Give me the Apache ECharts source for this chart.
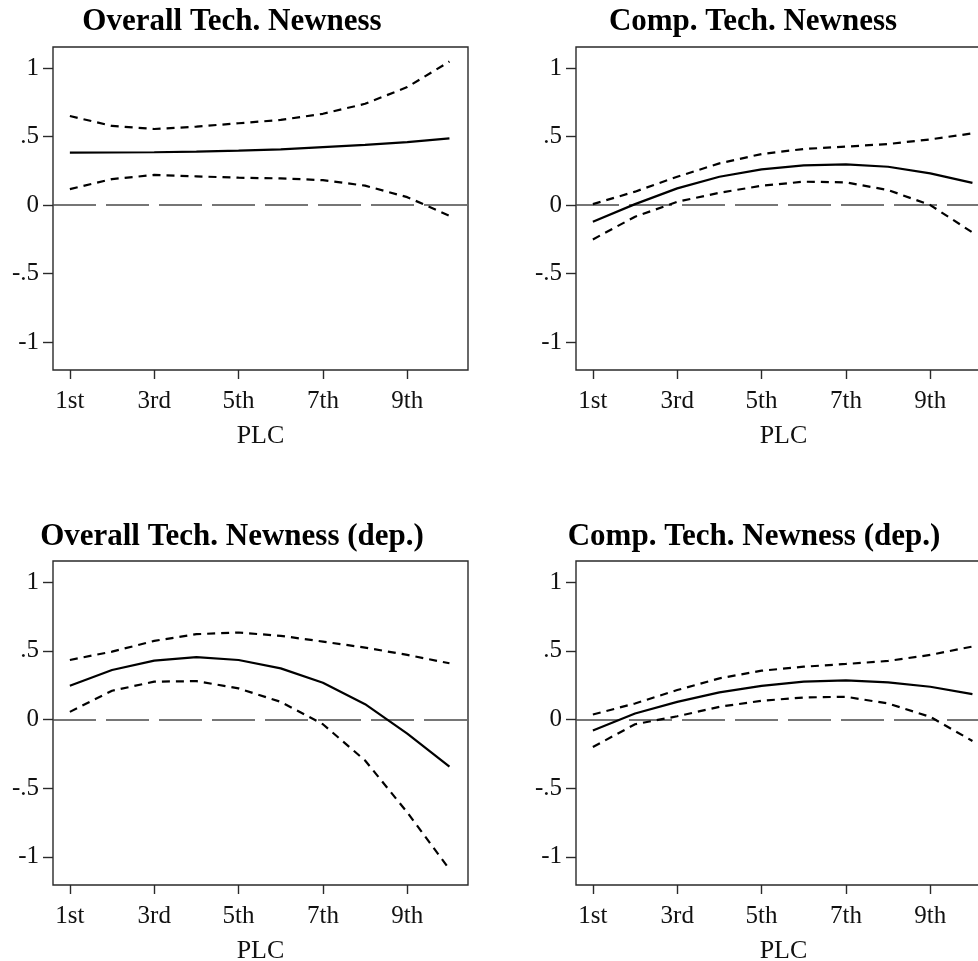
<!DOCTYPE html>
<html>
<head>
<meta charset="utf-8">
<title>PLC newness effects</title>
<script src="https://cdn.jsdelivr.net/npm/echarts@6/dist/echarts.min.js"></script>
<style>
  html, body { margin: 0; padding: 0; background: #fff; }
  #chart { width: 978px; height: 961px; }
</style>
</head>
<body>
<div id="chart"></div>
<script>
// PLC stage on the x axis
const plc = [1, 2, 3, 4, 5, 6, 7, 8, 9, 10];
const xTickValues = [1, 3, 5, 7, 9];
const xTickLabels = ['1st', '3rd', '5th', '7th', '9th'];
const yTickValues = [-1, -0.5, 0, 0.5, 1];
const yTickLabels = ['-1', '-.5', '0', '.5', '1'];

const panelTitles = [
  'Overall Tech. Newness',
  'Comp. Tech. Newness',
  'Overall Tech. Newness (dep.)',
  'Comp. Tech. Newness (dep.)'
];

// estimate + confidence band
const overallEst   = [0.383, 0.384, 0.386, 0.390, 0.398, 0.407, 0.424, 0.440, 0.460, 0.487];
const overallUpper = [0.651, 0.578, 0.556, 0.573, 0.598, 0.622, 0.667, 0.740, 0.862, 1.049];
const overallLower = [0.117, 0.190, 0.220, 0.210, 0.200, 0.195, 0.182, 0.142, 0.058, -0.078];

const compEst   = [-0.122, 0.007, 0.122, 0.207, 0.261, 0.290, 0.298, 0.280, 0.232, 0.162];
const compUpper = [0.007, 0.098, 0.207, 0.305, 0.373, 0.410, 0.427, 0.446, 0.480, 0.524];
const compLower = [-0.251, -0.085, 0.024, 0.090, 0.141, 0.171, 0.166, 0.110, 0.000, -0.200];

const overallDepEst   = [0.246, 0.361, 0.429, 0.455, 0.434, 0.373, 0.268, 0.112, -0.102, -0.343];
const overallDepUpper = [0.434, 0.495, 0.573, 0.622, 0.634, 0.610, 0.568, 0.524, 0.471, 0.410];
const overallDepLower = [0.056, 0.210, 0.276, 0.280, 0.227, 0.129, -0.034, -0.298, -0.676, -1.090];

const compDepEst   = [-0.080, 0.044, 0.129, 0.198, 0.246, 0.276, 0.285, 0.271, 0.239, 0.185];
const compDepUpper = [0.037, 0.117, 0.215, 0.300, 0.356, 0.385, 0.405, 0.427, 0.471, 0.532];
const compDepLower = [-0.200, -0.034, 0.024, 0.093, 0.137, 0.161, 0.166, 0.117, 0.020, -0.156];

const panelData = [
  [overallEst, overallUpper, overallLower],
  [compEst, compUpper, compLower],
  [overallDepEst, overallDepUpper, overallDepLower],
  [compDepEst, compDepUpper, compDepLower]
];

const serif = '"Liberation Serif", "Times New Roman", serif';
const ink = '#111';

// plot boxes (right column runs off the edge, like the original crop)
const boxes = [
  { left: 53, top: 47, height: 323 },
  { left: 576, top: 47, height: 323 },
  { left: 53, top: 561, height: 324 },
  { left: 576, top: 561, height: 324 }
];
const titlePos = [
  { x: 232, y: 22 },
  { x: 753, y: 22 },
  { x: 232, y: 537 },
  { x: 754, y: 537 }
];

const grids = [], xAxes = [], yAxes = [], series = [], graphics = [];

boxes.forEach((b, i) => {
  grids.push({
    left: b.left, top: b.top, width: 415, height: b.height,
    outerBoundsMode: 'none', containLabel: false,
    show: true, borderColor: '#2a2a2a', borderWidth: 1.4, backgroundColor: '#fff'
  });

  xAxes.push({
    gridIndex: i, type: 'value', min: 0.6, max: 10.44, position: 'bottom',
    name: 'PLC', nameLocation: 'middle', nameGap: 53,
    nameTextStyle: { fontFamily: serif, fontSize: 26, color: ink },
    axisLine: { show: false, onZero: false },
    splitLine: { show: false },
    axisTick: { show: true, length: 9, customValues: xTickValues, lineStyle: { color: '#2a2a2a', width: 1.4 } },
    axisLabel: {
      customValues: xTickValues, margin: 19,
      fontFamily: serif, fontSize: 25, color: ink,
      formatter: v => xTickLabels[xTickValues.indexOf(v)]
    }
  });

  yAxes.push({
    gridIndex: i, type: 'value', min: -1.205, max: 1.155, position: 'left',
    axisLine: { show: false, onZero: false },
    splitLine: { show: false },
    axisTick: { show: true, length: 10, customValues: yTickValues, lineStyle: { color: '#2a2a2a', width: 1.4 } },
    axisLabel: {
      customValues: yTickValues, margin: 14,
      fontFamily: serif, fontSize: 25, color: ink,
      formatter: v => yTickLabels[yTickValues.indexOf(v)]
    }
  });

  const [est, upper, lower] = panelData[i];

  series.push({
    type: 'line', xAxisIndex: i, yAxisIndex: i,
    data: plc.map((x, k) => [x, est[k]]),
    showSymbol: false, smooth: false,
    lineStyle: { color: '#000', width: 2.2 },
    z: 3,
    markLine: {
      silent: true, symbol: ['none', 'none'], label: { show: false },
      lineStyle: { color: '#4a4a4a', width: 1.7, type: [43, 10] },
      data: [{ yAxis: 0 }],
      z: 1
    }
  });
  [upper, lower].forEach(band => {
    series.push({
      type: 'line', xAxisIndex: i, yAxisIndex: i,
      data: plc.map((x, k) => [x, band[k]]),
      showSymbol: false, smooth: false,
      lineStyle: { color: '#000', width: 2.2, type: [8, 6] },
      z: 3
    });
  });

  graphics.push({
    type: 'text', x: titlePos[i].x, y: titlePos[i].y,
    style: {
      text: panelTitles[i], fill: '#000',
      font: 'bold 31px ' + serif,
      align: 'center', verticalAlign: 'middle'
    }
  });
});

const chart = echarts.init(document.getElementById('chart'));
chart.setOption({
  animation: false,
  backgroundColor: '#fff',
  grid: grids,
  xAxis: xAxes,
  yAxis: yAxes,
  series: series,
  graphic: graphics
});
</script>
</body>
</html>
